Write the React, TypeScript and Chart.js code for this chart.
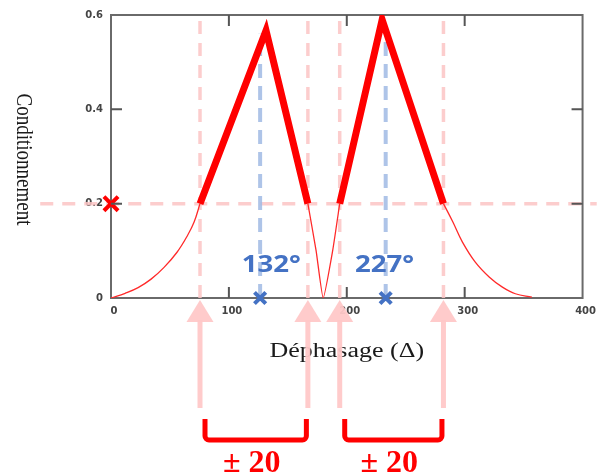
import React, { useEffect, useRef } from "react";
import { Chart, registerables } from "chart.js";

Chart.register(...registerables);

// ---- data ----
const xTicks = [0, 100, 200, 300, 400];
const yTicks = [0, 0.2, 0.4, 0.6];

const leftCurveX = [0, 12, 23, 34, 45, 56, 65, 70.5, 75.5];
const leftCurveY = [0, 0.01, 0.022, 0.04, 0.065, 0.097, 0.133, 0.161, 0.2];

const peak1X = [75.5, 131.5, 167];
const peak1Y = [0.2, 0.567, 0.2];

const valleyX = [167, 174, 180, 188, 194];
const valleyY = [0.2, 0.1, 0, 0.1, 0.2];

const peak2X = [194, 230, 282];
const peak2Y = [0.2, 0.59, 0.2];

const rightCurveX = [282, 290, 298, 309, 321, 332, 343, 357];
const rightCurveY = [0.2, 0.161, 0.119, 0.076, 0.044, 0.023, 0.009, 0.002];

const thresholdY = 0.2;
const thresholdSpanX = [-60, 412];
const boundsX = [75.5, 167, 194, 282];
const optimumX = [126.5, 233];
const optimumTopY = [0.56, 0.545];
const optimumLabels = ["132°", "227°"];
const optimumLabelX = [136, 232];
const bracketLabels = ["± 20", "± 20"];

const xTitle = "Déphasage (Δ)";
const yTitle = "Conditionnement";

const pts = (xs: number[], ys: number[]) => xs.map((x, i) => ({ x, y: ys[i] }));

const PINK = "rgba(252, 196, 196, 0.85)";
const BLUE_DASH = "rgba(160, 186, 228, 0.85)";
const BLUE = "#4472c4";
const RED = "#ff0000";

const decorPlugin = {
  id: "decor",
  beforeDatasetsDraw(chart: any) {
    const { ctx, chartArea: a } = chart;
    ctx.save();
    ctx.strokeStyle = "#6a6a6a";
    ctx.lineWidth = 2;
    ctx.strokeRect(a.left, a.top, a.right - a.left, a.bottom - a.top);
    ctx.restore();
  },
  afterDatasetsDraw(chart: any) {
    const { ctx, chartArea: a, scales } = chart;
    const xs = scales.x;
    const ys = scales.y;
    ctx.save();
    // inward ticks
    ctx.strokeStyle = "#555";
    ctx.lineWidth = 2;
    const tl = 11;
    xTicks.slice(1, -1).forEach((v) => {
      const px = xs.getPixelForValue(v);
      ctx.beginPath();
      ctx.moveTo(px, a.bottom);
      ctx.lineTo(px, a.bottom - tl);
      ctx.moveTo(px, a.top);
      ctx.lineTo(px, a.top + tl);
      ctx.stroke();
    });
    yTicks.slice(1, -1).forEach((v) => {
      const py = ys.getPixelForValue(v);
      ctx.beginPath();
      ctx.moveTo(a.left, py);
      ctx.lineTo(a.left + tl, py);
      ctx.moveTo(a.right, py);
      ctx.lineTo(a.right - tl, py);
      ctx.stroke();
    });

    // optimum labels
    ctx.fillStyle = BLUE;
    ctx.font = "bold 24px 'Open Sans'";
    ctx.textAlign = "center";
    ctx.textBaseline = "alphabetic";
    optimumLabels.forEach((t, i) => {
      const px = xs.getPixelForValue(optimumLabelX[i]);
      ctx.save();
      ctx.translate(px, 272);
      ctx.scale(1.15, 1);
      ctx.fillText(t, 0, 0);
      ctx.restore();
    });

    // x title
    ctx.fillStyle = "#1a1a1a";
    ctx.font = "20px 'Liberation Serif'";
    ctx.textBaseline = "middle";
    ctx.save();
    ctx.translate((a.left + a.right) / 2, 352);
    ctx.scale(1.3, 1);
    ctx.fillText(xTitle, 0, 0);
    ctx.restore();

    // y title (reads top to bottom)
    ctx.font = "19px 'Liberation Serif'";
    ctx.save();
    ctx.translate(23, 159.5);
    ctx.rotate(Math.PI / 2);
    ctx.scale(1, 1.25);
    ctx.fillText(yTitle, 0, 0);
    ctx.restore();

    // arrows
    ctx.fillStyle = "rgba(255, 200, 200, 0.95)";
    boundsX.forEach((v) => {
      const px = xs.getPixelForValue(v);
      ctx.fillRect(px - 2.5, 320, 5, 88);
      ctx.beginPath();
      ctx.moveTo(px, 300);
      ctx.lineTo(px + 13.5, 322);
      ctx.lineTo(px - 13.5, 322);
      ctx.closePath();
      ctx.fill();
    });

    // brackets
    ctx.strokeStyle = RED;
    ctx.lineWidth = 5;
    ctx.lineJoin = "round";
    ctx.lineCap = "butt";
    for (let i = 0; i < 2; i++) {
      const l = xs.getPixelForValue(boundsX[i * 2]) + 5;
      const r = xs.getPixelForValue(boundsX[i * 2 + 1]) - 1.5;
      ctx.beginPath();
      ctx.moveTo(l, 419);
      ctx.arcTo(l, 440, l + 10, 440, 4);
      ctx.arcTo(r, 440, r, 430, 4);
      ctx.lineTo(r, 419);
      ctx.stroke();
      ctx.fillStyle = RED;
      ctx.font = "bold 32px 'Liberation Serif'";
      ctx.textAlign = "center";
      ctx.textBaseline = "alphabetic";
      ctx.fillText(bracketLabels[i], (l + r) / 2 - 4, 472);
    }
    ctx.restore();
  },
};

export default function App() {
  const ref = useRef<HTMLCanvasElement | null>(null);
  useEffect(() => {
    document.body.style.margin = "0";
    if (!ref.current) return;
    const line = (data: any[], extra: any) => ({
      type: "line",
      data,
      pointRadius: 0,
      fill: false,
      ...extra,
    });
    const thin = { borderColor: "#ff2a2a", borderWidth: 1.3, order: 10 };
    const datasets: any[] = [
      line(
        thresholdSpanX.map((x) => ({ x, y: thresholdY })),
        { borderColor: PINK, borderWidth: 3.5, borderDash: [13, 9], clip: false, order: 20 }
      ),
      ...boundsX.map((x) =>
        line(
          [
            { x, y: 0 },
            { x, y: 0.6 },
          ],
          { borderColor: PINK, borderWidth: 3.5, borderDash: [13, 9], order: 19 }
        )
      ),
      ...optimumX.map((x, i) =>
        line(
          [
            { x, y: 0 },
            { x, y: optimumTopY[i] },
          ],
          { borderColor: BLUE_DASH, borderWidth: 4, borderDash: [14, 8], order: 18 }
        )
      ),
      line(pts(leftCurveX, leftCurveY), { ...thin, tension: 0.4 }),
      line(pts(valleyX, valleyY), { ...thin, tension: 0.15 }),
      line(pts(rightCurveX, rightCurveY), { ...thin, tension: 0.4 }),
      line(pts(peak1X, peak1Y), {
        borderColor: RED,
        borderWidth: 7,
        borderJoinStyle: "miter",
        order: 5,
      }),
      line(pts(peak2X, peak2Y), {
        borderColor: RED,
        borderWidth: 7,
        borderJoinStyle: "miter",
        order: 5,
      }),
      {
        type: "scatter",
        data: [{ x: 0, y: thresholdY }],
        pointStyle: "crossRot",
        pointRadius: 10,
        pointBorderWidth: 4,
        borderWidth: 4,
        borderColor: RED,
        backgroundColor: RED,
        pointBorderColor: RED,
        clip: false,
        order: 1,
      },
      {
        type: "scatter",
        data: optimumX.map((x) => ({ x, y: 0 })),
        pointStyle: "crossRot",
        pointRadius: 8,
        pointBorderWidth: 4,
        borderWidth: 4,
        borderColor: BLUE,
        backgroundColor: BLUE,
        pointBorderColor: BLUE,
        clip: false,
        order: 1,
      },
    ];

    const chart = new Chart(ref.current, {
      type: "line",
      data: { datasets },
      options: {
        animation: false,
        responsive: false,
        layout: { padding: { left: 0, right: 12, top: 15, bottom: 0 } },
        plugins: { legend: { display: false }, tooltip: { enabled: false } },
        scales: {
          x: {
            type: "linear",
            min: 0,
            max: 400,
            grid: { display: false, drawTicks: false },
            border: { display: false },
            afterBuildTicks: (s: any) => {
              s.ticks = xTicks.map((v) => ({ value: v }));
            },
            afterFit: (s: any) => {
              s.height = 175;
            },
            ticks: {
              padding: 7,
              labelOffset: 3,
              maxRotation: 0,
              autoSkip: false,
              color: "#444",
              font: { family: "DejaVu Sans", size: 10, weight: "bold" },
              callback: (v: any) => String(v),
            },
          },
          y: {
            type: "linear",
            min: 0,
            max: 0.6,
            grid: { display: false, drawTicks: false },
            border: { display: false },
            afterBuildTicks: (s: any) => {
              s.ticks = yTicks.map((v) => ({ value: v }));
            },
            afterFit: (s: any) => {
              s.width = 111;
            },
            ticks: {
              padding: 8,
              autoSkip: false,
              color: "#444",
              font: { family: "DejaVu Sans", size: 10, weight: "bold" },
              callback: (v: any) => (v === 0 ? "0" : Number(v).toFixed(1)),
            },
          },
        },
      } as any,
      plugins: [decorPlugin],
    } as any);
    return () => chart.destroy();
  }, []);

  return (
    <div style={{ width: 600, height: 473 }}>
      <canvas ref={ref} width={600} height={473} style={{ display: "block" }} />
    </div>
  );
}
